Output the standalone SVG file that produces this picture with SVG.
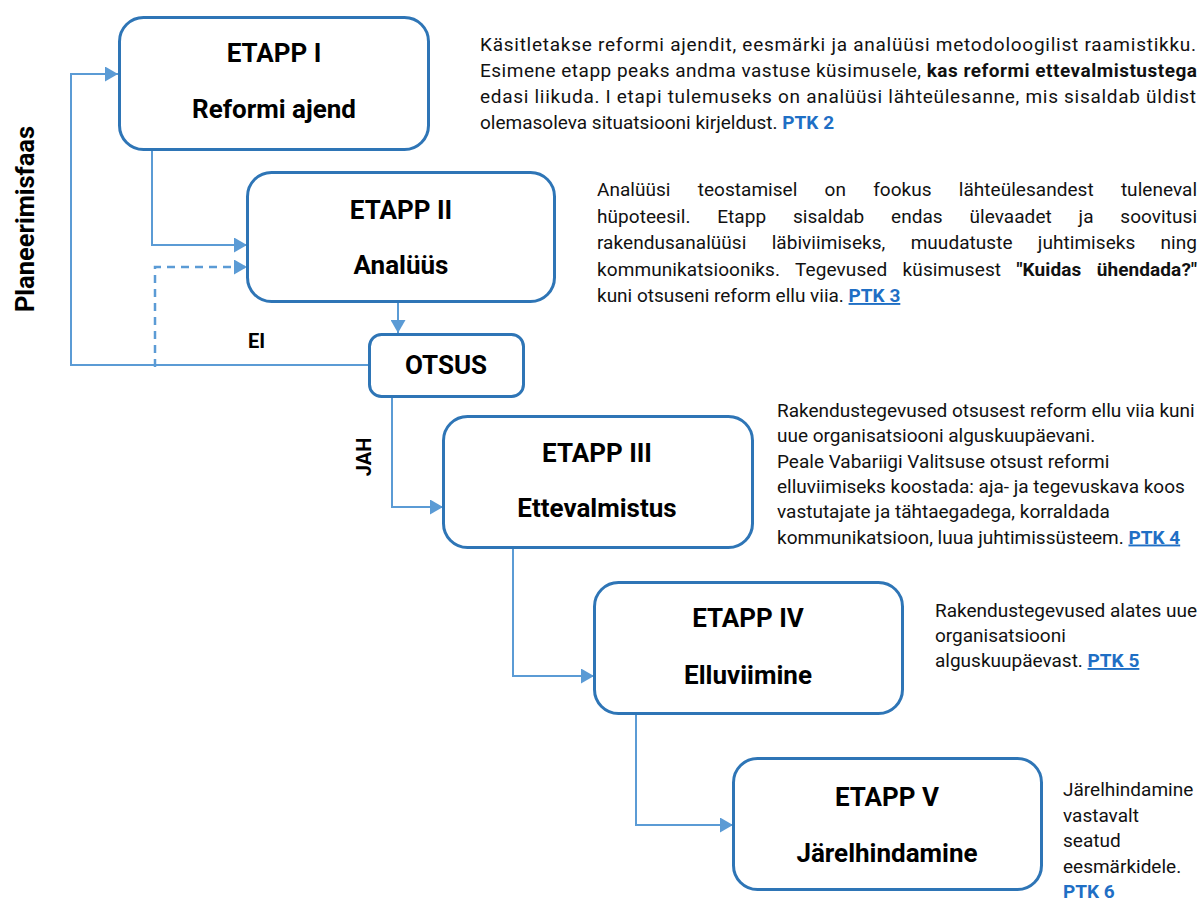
<svg xmlns="http://www.w3.org/2000/svg" width="1203" height="902" viewBox="0 0 1203 902">
<style>
.box{fill:#fff;stroke:#2E75B6;stroke-width:3}
.h{font-family:Roboto,"Liberation Sans",sans-serif;font-weight:bold;font-size:26px;fill:#000;text-anchor:middle}
.t{font-family:Roboto,"Liberation Sans",sans-serif;font-size:19px;fill:#111}
.b{font-weight:bold}
.ptk{font-weight:bold;fill:#1F6FC5}
.u{text-decoration:underline}
.lbl{font-family:Roboto,"Liberation Sans",sans-serif;font-weight:bold;font-size:20px;fill:#000}
.c{fill:none;stroke:#5B9BD5;stroke-width:2}
.d{stroke-dasharray:8 6;stroke-width:2.5}
</style>
<defs>
<marker id="ah" markerUnits="userSpaceOnUse" markerWidth="14" markerHeight="15" refX="13" refY="7.5" orient="auto">
<path d="M0,0 L13,7.5 L0,15 z" fill="#5B9BD5"/>
</marker>
</defs>
<rect width="1203" height="902" fill="#fff"/>
<g id="connectors">
<path class="c" d="M369,365 H71 V74 H118" marker-end="url(#ah)"/>
<path class="c d" d="M155,367 V267 H247" marker-end="url(#ah)"/>
<path class="c" d="M152,150 V245 H247" marker-end="url(#ah)"/>
<path class="c" d="M398,302 V333" marker-end="url(#ah)"/>
<path class="c" d="M392,397 V507 H443" marker-end="url(#ah)"/>
<path class="c" d="M513,548 V676 H594" marker-end="url(#ah)"/>
<path class="c" d="M636,714 V825 H733" marker-end="url(#ah)"/>
</g>
<g id="label-planeerimisfaas">
<text class="lbl" style="font-size:25.5px" text-anchor="middle" transform="translate(34,219) rotate(-90)">Planeerimisfaas</text>
</g>
<g id="label-ei"><text class="lbl" x="248" y="348">EI</text></g>
<g id="label-jah"><text class="lbl" text-anchor="middle" transform="translate(371,457) rotate(-90)">JAH</text></g>
<g id="etapp1">
<rect class="box" x="119.5" y="17.5" width="309" height="132" rx="24"/>
<text class="h" x="274" y="62">ETAPP I</text>
<text class="h" x="274" y="118">Reformi ajend</text>
</g>
<g id="etapp2">
<rect class="box" x="247.5" y="172.5" width="307" height="129" rx="24"/>
<text class="h" x="401" y="219">ETAPP II</text>
<text class="h" x="401" y="274">Analüüs</text>
</g>
<g id="otsus">
<rect class="box" x="369.5" y="334.5" width="154" height="62" rx="12"/>
<text class="h" x="446" y="374">OTSUS</text>
</g>
<g id="etapp3">
<rect class="box" x="443.5" y="416.5" width="309" height="131" rx="24"/>
<text class="h" x="597" y="462">ETAPP III</text>
<text class="h" x="597" y="517">Ettevalmistus</text>
</g>
<g id="etapp4">
<rect class="box" x="594.5" y="582.5" width="308" height="131" rx="24"/>
<text class="h" x="748" y="627">ETAPP IV</text>
<text class="h" x="748" y="684">Elluviimine</text>
</g>
<g id="etapp5">
<rect class="box" x="733.5" y="758.5" width="308" height="131" rx="24"/>
<text class="h" x="887" y="806">ETAPP V</text>
<text class="h" x="887" y="862">Järelhindamine</text>
</g>
<g id="desc1">
<text class="t" x="480" y="51" textLength="716">Käsitletakse reformi ajendit, eesmärki ja analüüsi metodoloogilist raamistikku.</text>
<text class="t" x="480" y="77" textLength="717">Esimene etapp peaks andma vastuse küsimusele, <tspan class="b">kas reformi ettevalmistustega</tspan></text>
<text class="t" x="480" y="103" textLength="716">edasi liikuda. I etapi tulemuseks on analüüsi lähteülesanne, mis sisaldab üldist</text>
<text class="t" x="480" y="129">olemasoleva situatsiooni kirjeldust. <tspan class="ptk">PTK 2</tspan></text>
</g>
<g id="desc2">
<text class="t" x="597" y="196" word-spacing="22.5" textLength="600">Analüüsi teostamisel on fookus lähteülesandest tuleneval</text>
<text class="t" x="597" y="222.5" word-spacing="22" textLength="600">hüpoteesil. Etapp sisaldab endas ülevaadet ja soovitusi</text>
<text class="t" x="597" y="249" word-spacing="20.5" textLength="600">rakendusanalüüsi läbiviimiseks, muudatuste juhtimiseks ning</text>
<text class="t" x="597" y="275.5" word-spacing="10.5" textLength="600">kommunikatsiooniks. Tegevused küsimusest <tspan class="b">"Kuidas ühendada?"</tspan></text>
<text class="t" x="597" y="302">kuni otsuseni reform ellu viia. <tspan class="ptk u">PTK 3</tspan></text>
</g>
<g id="desc3">
<text class="t" x="777" y="417">Rakendustegevused otsusest reform ellu viia kuni</text>
<text class="t" x="777" y="442">uue organisatsiooni alguskuupäevani.</text>
<text class="t" x="777" y="467.5">Peale Vabariigi Valitsuse otsust reformi</text>
<text class="t" x="777" y="493">elluviimiseks koostada: aja- ja tegevuskava koos</text>
<text class="t" x="777" y="518">vastutajate ja tähtaegadega, korraldada</text>
<text class="t" x="777" y="543.5">kommunikatsioon, luua juhtimissüsteem. <tspan class="ptk u">PTK 4</tspan></text>
</g>
<g id="desc4">
<text class="t" x="935" y="617">Rakendustegevused alates uue</text>
<text class="t" x="935" y="642">organisatsiooni</text>
<text class="t" x="935" y="667">alguskuupäevast. <tspan class="ptk u">PTK 5</tspan></text>
</g>
<g id="desc5">
<text class="t" x="1063" y="796">Järelhindamine</text>
<text class="t" x="1063" y="821.5">vastavalt</text>
<text class="t" x="1063" y="847">seatud</text>
<text class="t" x="1063" y="872.5">eesmärkidele.</text>
<text class="t" x="1063" y="898"><tspan class="ptk">PTK 6</tspan></text>
</g>
</svg>
